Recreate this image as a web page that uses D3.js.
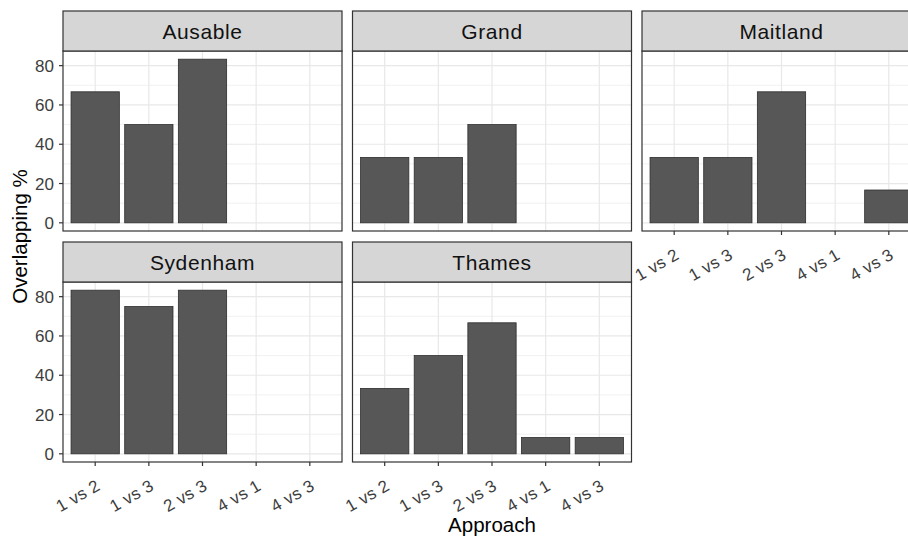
<!DOCTYPE html>
<html>
<head>
<meta charset="utf-8">
<script src="https://cdn.jsdelivr.net/npm/d3@7"></script>
<style>
  html, body { margin: 0; padding: 0; background: #fff; }
  svg { display: block; font-family: "Liberation Sans", Arial, sans-serif; }
</style>
</head>
<body>
<svg id="chart" width="908" height="538"></svg>
<script>
// ---- data ----
const categories = ["1 vs 2", "1 vs 3", "2 vs 3", "4 vs 1", "4 vs 3"];
const rivers = ["Ausable", "Grand", "Maitland", "Sydenham", "Thames"];
const ausable  = [66.7, 50, 83.3, 0, 0];
const grand    = [33.3, 33.3, 50, 0, 0];
const maitland = [33.3, 33.3, 66.7, 0, 16.7];
const sydenham = [83.3, 75, 83.3, 0, 0];
const thames   = [33.3, 50, 66.7, 8.3, 8.3];
const yTicks = [0, 20, 40, 60, 80];
const yMinor = [10, 30, 50, 70];
const xTitle = "Approach";
const yTitle = "Overlapping %";

const seriesByRiver = [ausable, grand, maitland, sydenham, thames];

// ---- layout ----
const svg = d3.select("#chart");
const colLeft = [63, 352.5, 642];
const panelW = 279;
const rowStripTop = [11, 242];
const stripH = 40;
const panelH = 180;
const maxVal = d3.max(seriesByRiver.flat());

const x = d3.scalePoint().domain(categories).range([0, panelW]).padding(0.6);
const step = panelW / (categories.length - 1 + 1.2);
const barW = step * 0.9;
const y = d3.scaleLinear().domain([-maxVal * 0.05, maxVal * 1.05]).range([panelH, 0]);

const facets = rivers.map((r, i) => ({
  name: r, values: seriesByRiver[i],
  col: i % 3, row: Math.floor(i / 3)
}));

facets.forEach(f => {
  const left = colLeft[f.col];
  const stripTop = rowStripTop[f.row];
  const top = stripTop + stripH;
  const g = svg.append("g").attr("transform", `translate(${left},${top})`);

  g.append("rect").attr("x", 0).attr("y", 0).attr("width", panelW).attr("height", panelH).attr("fill", "#fff");

  g.selectAll(".ymin").data(yMinor).join("line")
    .attr("x1", 0).attr("x2", panelW)
    .attr("y1", d => y(d)).attr("y2", d => y(d))
    .attr("stroke", "#ebebeb").attr("stroke-width", 0.7);
  g.selectAll(".ymaj").data(yTicks).join("line")
    .attr("x1", 0).attr("x2", panelW)
    .attr("y1", d => y(d)).attr("y2", d => y(d))
    .attr("stroke", "#e8e8e8").attr("stroke-width", 1.2);
  g.selectAll(".xmaj").data(categories).join("line")
    .attr("x1", d => x(d)).attr("x2", d => x(d))
    .attr("y1", 0).attr("y2", panelH)
    .attr("stroke", "#e8e8e8").attr("stroke-width", 1.2);

  const data = categories.map((c, i) => ({ c, v: f.values[i] })).filter(d => d.v > 0);
  g.selectAll(".bar").data(data).join("rect")
    .attr("x", d => x(d.c) - barW / 2)
    .attr("width", barW)
    .attr("y", d => y(d.v))
    .attr("height", d => y(0) - y(d.v))
    .attr("fill", "#575757")
    .attr("stroke", "#2e2e2e").attr("stroke-width", 0.8);

  g.append("rect").attr("x", 0).attr("y", 0).attr("width", panelW).attr("height", panelH)
    .attr("fill", "none").attr("stroke", "#333").attr("stroke-width", 1.2);

  const s = svg.append("g").attr("transform", `translate(${left},${stripTop})`);
  s.append("rect").attr("width", panelW).attr("height", stripH)
    .attr("fill", "#d6d6d6").attr("stroke", "#333").attr("stroke-width", 1.2);
  s.append("text").attr("x", panelW / 2).attr("y", stripH / 2 + 7.5)
    .attr("text-anchor", "middle").attr("font-size", 21).attr("fill", "#111")
    .attr("letter-spacing", 0.6)
    .text(f.name);

  if (f.col === 0) {
    const ya = g.append("g");
    ya.selectAll("line").data(yTicks).join("line")
      .attr("x1", -4).attr("x2", 0).attr("y1", d => y(d)).attr("y2", d => y(d))
      .attr("stroke", "#333").attr("stroke-width", 1.2);
    ya.selectAll("text").data(yTicks).join("text")
      .attr("x", -9).attr("y", d => y(d) + 6)
      .attr("text-anchor", "end").attr("font-size", 17).attr("fill", "#3d3d3d")
      .text(d => d);
  }

  const hasBelow = facets.some(o => o.row === f.row + 1 && o.col === f.col);
  if (!hasBelow) {
    const xa = g.append("g").attr("transform", `translate(0,${panelH})`);
    xa.selectAll("line").data(categories).join("line")
      .attr("x1", d => x(d)).attr("x2", d => x(d)).attr("y1", 0).attr("y2", 4)
      .attr("stroke", "#333").attr("stroke-width", 1.2);
    xa.selectAll("text").data(categories).join("text")
      .attr("transform", d => `translate(${x(d) + 6},${27}) rotate(-30)`)
      .attr("text-anchor", "end").attr("font-size", 17).attr("fill", "#3d3d3d")
      .attr("letter-spacing", 0.3)
      .text(d => d);
  }
});

const panelsLeft = colLeft[0];
const panelsRight = colLeft[2] + panelW;
svg.append("text")
  .attr("x", (panelsLeft + panelsRight) / 2).attr("y", 532)
  .attr("text-anchor", "middle").attr("font-size", 20.5).attr("fill", "#000")
  .text(xTitle);
const midY = (rowStripTop[0] + rowStripTop[1] + stripH + panelH) / 2;
svg.append("text")
  .attr("transform", `translate(27,${midY}) rotate(-90)`)
  .attr("text-anchor", "middle").attr("font-size", 20.5).attr("fill", "#000")
  .text(yTitle);
</script>
</body>
</html>
